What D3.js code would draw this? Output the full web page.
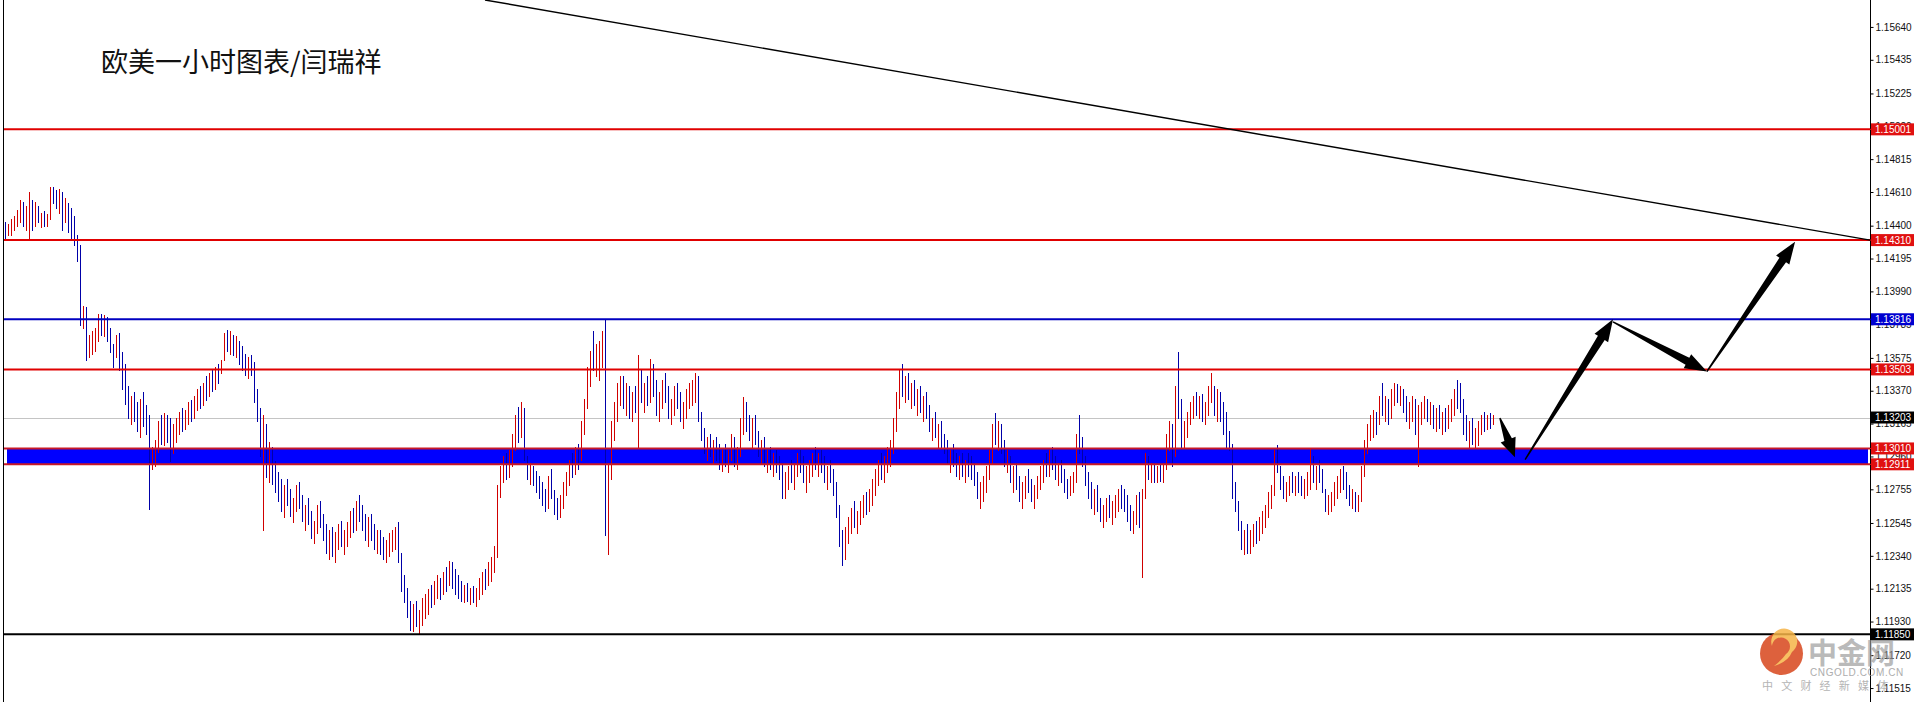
<!DOCTYPE html>
<html><head><meta charset="utf-8">
<script src="https://cdn.jsdelivr.net/npm/d3@7"></script>
<style>html,body{margin:0;padding:0;background:#fff;overflow:hidden}svg{display:block}</style>
</head><body><svg id="c" width="1915" height="702"></svg>
<script>
// ---------- DATA (EURUSD 1H bars) ----------
const firstOpen = 1.1438;
const highs = [
1.1442,1.1441,1.1444,1.1446,1.1450,1.1456,1.1455,1.1452,1.1461,1.1456,
1.1455,1.1452,1.1448,1.1449,1.1447,1.1464,1.1464,1.1462,1.1463,1.1461,
1.1457,1.1454,1.1451,1.1446,1.1434,1.1428,1.1390,1.1389,1.1372,1.1374,
1.1376,1.1385,1.1385,1.1384,1.1383,1.1376,1.1366,1.1372,1.1373,1.1361,
1.1354,1.1340,1.1334,1.1336,1.1330,1.1332,1.1336,1.1328,1.1322,1.1302,
1.1306,1.1318,1.1322,1.1323,1.1322,1.1320,1.1316,1.1320,1.1324,1.1326,
1.1325,1.1330,1.1331,1.1334,1.1338,1.1340,1.1342,1.1346,1.1348,1.1350,
1.1352,1.1354,1.1356,1.1373,1.1375,1.1374,1.1372,1.1371,1.1368,1.1365,
1.1360,1.1358,1.1359,1.1355,1.1338,1.1326,1.1322,1.1316,1.1305,1.1302,
1.1293,1.1286,1.1282,1.1278,1.1282,1.1276,1.1270,1.1278,1.1280,1.1272,
1.1266,1.1270,1.1262,1.1256,1.1266,1.1268,1.1260,1.1254,1.1250,1.1252,
1.1249,1.1254,1.1256,1.1250,1.1255,1.1262,1.1264,1.1268,1.1272,1.1266,
1.1260,1.1258,1.1260,1.1254,1.1250,1.1250,1.1246,1.1244,1.1248,1.1250,
1.1252,1.1255,1.1236,1.1222,1.1214,1.1206,1.1204,1.1206,1.1200,1.1208,
1.1210,1.1213,1.1216,1.1218,1.1222,1.1220,1.1224,1.1227,1.1231,1.1230,
1.1226,1.1222,1.1218,1.1216,1.1217,1.1214,1.1215,1.1214,1.1220,1.1224,
1.1226,1.1230,1.1233,1.1240,1.1278,1.1290,1.1296,1.1298,1.1300,1.1310,
1.1322,1.1327,1.1330,1.1326,1.1296,1.1292,1.1290,1.1287,1.1284,1.1280,
1.1276,1.1284,1.1288,1.1275,1.1270,1.1272,1.1280,1.1286,1.1294,1.1298,
1.1302,1.1304,1.1318,1.1332,1.1352,1.1362,1.1374,1.1366,1.1368,1.1374,
1.1382,1.1292,1.1318,1.1330,1.1342,1.1346,1.1346,1.1342,1.1340,1.1336,
1.1340,1.1359,1.1350,1.1342,1.1346,1.1357,1.1354,1.1344,1.1336,1.1344,
1.1348,1.1340,1.1332,1.1340,1.1342,1.1336,1.1330,1.1338,1.1342,1.1344,
1.1348,1.1346,1.1324,1.1314,1.1308,1.1310,1.1306,1.1308,1.1304,1.1300,
1.1304,1.1300,1.1310,1.1308,1.1302,1.1320,1.1333,1.1330,1.1322,1.1320,
1.1322,1.1312,1.1306,1.1308,1.1300,1.1302,1.1298,1.1300,1.1296,1.1292,
1.1286,1.1290,1.1294,1.1292,1.1298,1.1300,1.1296,1.1290,1.1294,1.1298,
1.1302,1.1298,1.1300,1.1296,1.1290,1.1294,1.1288,1.1280,1.1266,1.1250,
1.1252,1.1258,1.1264,1.1268,1.1262,1.1268,1.1272,1.1274,1.1276,1.1282,
1.1288,1.1294,1.1298,1.1296,1.1302,1.1306,1.1320,1.1336,1.1350,1.1354,
1.1346,1.1348,1.1342,1.1344,1.1338,1.1340,1.1334,1.1336,1.1328,1.1320,
1.1324,1.1316,1.1318,1.1310,1.1306,1.1300,1.1304,1.1298,1.1296,1.1298,
1.1294,1.1298,1.1296,1.1292,1.1286,1.1280,1.1284,1.1290,1.1300,1.1316,
1.1323,1.1318,1.1316,1.1306,1.1300,1.1296,1.1290,1.1292,1.1284,1.1280,
1.1284,1.1288,1.1282,1.1278,1.1284,1.1290,1.1294,1.1298,1.1300,1.1302,
1.1296,1.1292,1.1294,1.1288,1.1282,1.1284,1.1286,1.1310,1.1322,1.1308,
1.1296,1.1286,1.1280,1.1276,1.1278,1.1270,1.1266,1.1270,1.1272,1.1268,
1.1272,1.1276,1.1278,1.1276,1.1272,1.1266,1.1262,1.1272,1.1274,1.1276,
1.1298,1.1296,1.1292,1.1292,1.1290,1.1291,1.1292,1.1310,1.1318,1.1316,
1.1340,1.1361,1.1332,1.1318,1.1324,1.1330,1.1334,1.1336,1.1334,1.1335,
1.1330,1.1340,1.1348,1.1340,1.1338,1.1336,1.1330,1.1324,1.1312,1.1304,
1.1280,1.1268,1.1256,1.1250,1.1254,1.1250,1.1254,1.1256,1.1258,1.1262,
1.1266,1.1274,1.1278,1.1300,1.1303,1.1290,1.1284,1.1280,1.1284,1.1286,
1.1284,1.1286,1.1284,1.1282,1.1286,1.1301,1.1296,1.1290,1.1294,1.1288,
1.1276,1.1272,1.1274,1.1280,1.1284,1.1288,1.1290,1.1286,1.1278,1.1276,
1.1274,1.1272,1.1290,1.1306,1.1316,1.1322,1.1325,1.1324,1.1334,1.1342,
1.1334,1.1332,1.1338,1.1342,1.1341,1.1340,1.1338,1.1334,1.1330,1.1334,
1.1332,1.1328,1.1330,1.1334,1.1332,1.1330,1.1328,1.1326,1.1328,1.1324,
1.1326,1.1328,1.1332,1.1338,1.1344,1.1342,1.1332,1.1322,1.1318,1.1320,
1.1314,1.1318,1.1322,1.1324,1.1322,1.1323,1.1322];
const lows = [
1.1432,1.1434,1.1434,1.1437,1.1440,1.1442,1.1440,1.1437,1.1431,1.1437,
1.1440,1.1442,1.1439,1.1440,1.1440,1.1444,1.1454,1.1451,1.1448,1.1437,
1.1442,1.1436,1.1432,1.1428,1.1418,1.1378,1.1376,1.1356,1.1358,1.1360,
1.1362,1.1368,1.1372,1.1371,1.1368,1.1361,1.1352,1.1358,1.1350,1.1338,
1.1329,1.1320,1.1316,1.1318,1.1312,1.1308,1.1315,1.1310,1.1263,1.1288,
1.1290,1.1299,1.1304,1.1303,1.1305,1.1293,1.1298,1.1305,1.1310,1.1312,
1.1313,1.1316,1.1318,1.1320,1.1325,1.1326,1.1328,1.1331,1.1334,1.1337,
1.1338,1.1342,1.1348,1.1356,1.1362,1.1360,1.1359,1.1358,1.1354,1.1350,
1.1347,1.1345,1.1347,1.1330,1.1318,1.1296,1.1250,1.1283,1.1280,1.1279,
1.1274,1.1268,1.1262,1.1258,1.1266,1.1259,1.1255,1.1262,1.1264,1.1256,
1.1250,1.1254,1.1245,1.1242,1.1248,1.1252,1.1244,1.1236,1.1232,1.1234,
1.1230,1.1238,1.1240,1.1235,1.1240,1.1246,1.1249,1.1250,1.1256,1.1250,
1.1244,1.1240,1.1244,1.1238,1.1236,1.1235,1.1232,1.1230,1.1234,1.1237,
1.1238,1.1230,1.1212,1.1205,1.1196,1.1188,1.1187,1.1190,1.1186,1.1191,
1.1195,1.1198,1.1202,1.1204,1.1208,1.1207,1.1210,1.1212,1.1216,1.1214,
1.1210,1.1208,1.1206,1.1205,1.1206,1.1204,1.1205,1.1203,1.1207,1.1210,
1.1213,1.1216,1.1218,1.1224,1.1233,1.1271,1.1280,1.1282,1.1283,1.1290,
1.1300,1.1305,1.1308,1.1294,1.1282,1.1279,1.1278,1.1274,1.1270,1.1266,
1.1262,1.1264,1.1270,1.1260,1.1257,1.1258,1.1264,1.1272,1.1278,1.1283,
1.1285,1.1288,1.1294,1.1310,1.1326,1.1340,1.1350,1.1346,1.1344,1.1352,
1.1247,1.1235,1.1282,1.1306,1.1318,1.1328,1.1326,1.1322,1.1320,1.1318,
1.1324,1.1302,1.1330,1.1324,1.1328,1.1330,1.1334,1.1322,1.1318,1.1326,
1.1330,1.1320,1.1316,1.1322,1.1326,1.1318,1.1314,1.1320,1.1326,1.1328,
1.1330,1.1318,1.1306,1.1298,1.1294,1.1296,1.1292,1.1294,1.1288,1.1287,
1.1290,1.1286,1.1294,1.1290,1.1288,1.1296,1.1310,1.1312,1.1306,1.1302,
1.1304,1.1296,1.1292,1.1290,1.1286,1.1288,1.1284,1.1286,1.1282,1.1270,
1.1270,1.1276,1.1280,1.1276,1.1284,1.1286,1.1280,1.1274,1.1280,1.1284,
1.1288,1.1284,1.1286,1.1280,1.1276,1.1280,1.1272,1.1258,1.1240,1.1228,
1.1232,1.1242,1.1248,1.1252,1.1248,1.1254,1.1258,1.1260,1.1262,1.1266,
1.1272,1.1278,1.1282,1.1280,1.1286,1.1290,1.1298,1.1312,1.1326,1.1334,
1.1330,1.1332,1.1326,1.1328,1.1322,1.1324,1.1318,1.1320,1.1312,1.1306,
1.1308,1.1302,1.1302,1.1298,1.1292,1.1286,1.1290,1.1284,1.1282,1.1284,
1.1280,1.1284,1.1282,1.1278,1.1270,1.1264,1.1268,1.1274,1.1282,1.1292,
1.1304,1.1300,1.1298,1.1290,1.1286,1.1280,1.1274,1.1276,1.1268,1.1264,
1.1270,1.1274,1.1268,1.1264,1.1270,1.1276,1.1280,1.1284,1.1284,1.1288,
1.1282,1.1278,1.1280,1.1274,1.1270,1.1272,1.1274,1.1280,1.1298,1.1290,
1.1278,1.1270,1.1264,1.1260,1.1262,1.1256,1.1252,1.1256,1.1258,1.1254,
1.1258,1.1262,1.1264,1.1262,1.1256,1.1250,1.1248,1.1254,1.1252,1.1221,
1.1270,1.1282,1.1280,1.1280,1.1280,1.1281,1.1280,1.1288,1.1300,1.1290,
1.1296,1.1320,1.1302,1.1302,1.1308,1.1316,1.1320,1.1322,1.1320,1.1318,
1.1316,1.1322,1.1330,1.1322,1.1318,1.1318,1.1310,1.1302,1.1300,1.1270,
1.1262,1.1250,1.1238,1.1235,1.1236,1.1236,1.1240,1.1242,1.1244,1.1248,
1.1252,1.1258,1.1264,1.1272,1.1286,1.1276,1.1270,1.1268,1.1272,1.1274,
1.1272,1.1274,1.1272,1.1270,1.1272,1.1276,1.1280,1.1276,1.1280,1.1274,
1.1262,1.1260,1.1262,1.1266,1.1270,1.1274,1.1276,1.1270,1.1266,1.1264,
1.1262,1.1262,1.1268,1.1284,1.1298,1.1306,1.1308,1.1310,1.1316,1.1322,
1.1318,1.1316,1.1320,1.1328,1.1330,1.1328,1.1324,1.1318,1.1314,1.1318,
1.1310,1.1290,1.1316,1.1320,1.1318,1.1316,1.1314,1.1312,1.1314,1.1310,
1.1312,1.1314,1.1318,1.1322,1.1326,1.1324,1.1310,1.1306,1.1302,1.1304,
1.1302,1.1303,1.1310,1.1312,1.1313,1.1314,1.1316];
const closes = [
1.1436,1.1439,1.1441,1.1443,1.1448,1.1453,1.1444,1.1448,1.1452,1.1442,
1.1450,1.1445,1.1446,1.1443,1.1445,1.1462,1.1457,1.1454,1.1460,1.1443,
1.1448,1.1440,1.1436,1.1432,1.1421,1.1385,1.1388,1.1360,1.1369,1.1371,
1.1373,1.1382,1.1377,1.1379,1.1372,1.1364,1.1362,1.1366,1.1353,1.1342,
1.1332,1.1324,1.1330,1.1321,1.1316,1.1326,1.1320,1.1314,1.1292,1.1298,
1.1304,1.1314,1.1308,1.1318,1.1309,1.1300,1.1312,1.1316,1.1320,1.1318,
1.1322,1.1326,1.1324,1.1331,1.1335,1.1330,1.1338,1.1335,1.1344,1.1341,
1.1349,1.1346,1.1355,1.1370,1.1366,1.1370,1.1362,1.1367,1.1357,1.1353,
1.1350,1.1355,1.1352,1.1334,1.1322,1.1300,1.1310,1.1288,1.1300,1.1284,
1.1278,1.1272,1.1266,1.1275,1.1270,1.1262,1.1267,1.1274,1.1268,1.1260,
1.1262,1.1257,1.1249,1.1253,1.1262,1.1256,1.1247,1.1240,1.1244,1.1238,
1.1246,1.1250,1.1244,1.1246,1.1252,1.1258,1.1253,1.1265,1.1260,1.1254,
1.1248,1.1255,1.1248,1.1242,1.1246,1.1239,1.1236,1.1241,1.1245,1.1247,
1.1250,1.1234,1.1215,1.1209,1.1200,1.1192,1.1200,1.1194,1.1197,1.1204,
1.1206,1.1210,1.1207,1.1214,1.1216,1.1212,1.1221,1.1218,1.1228,1.1219,
1.1214,1.1211,1.1209,1.1213,1.1208,1.1210,1.1207,1.1212,1.1217,1.1221,
1.1220,1.1227,1.1230,1.1237,1.1275,1.1286,1.1292,1.1285,1.1296,1.1306,
1.1318,1.1312,1.1325,1.1298,1.1285,1.1288,1.1282,1.1278,1.1274,1.1270,
1.1266,1.1280,1.1275,1.1264,1.1262,1.1268,1.1277,1.1283,1.1290,1.1287,
1.1298,1.1292,1.1314,1.1328,1.1348,1.1358,1.1356,1.1362,1.1364,1.1370,
1.1260,1.1288,1.1312,1.1325,1.1336,1.1340,1.1330,1.1338,1.1325,1.1332,
1.1328,1.1352,1.1334,1.1338,1.1332,1.1352,1.1338,1.1326,1.1332,1.1340,
1.1334,1.1324,1.1328,1.1336,1.1330,1.1322,1.1326,1.1334,1.1338,1.1340,
1.1344,1.1322,1.1310,1.1303,1.1305,1.1300,1.1302,1.1298,1.1292,1.1296,
1.1293,1.1298,1.1306,1.1294,1.1298,1.1316,1.1326,1.1316,1.1310,1.1316,
1.1308,1.1300,1.1302,1.1294,1.1296,1.1291,1.1294,1.1290,1.1286,1.1274,
1.1282,1.1286,1.1284,1.1290,1.1294,1.1290,1.1284,1.1286,1.1290,1.1294,
1.1292,1.1296,1.1290,1.1284,1.1288,1.1284,1.1276,1.1262,1.1244,1.1236,
1.1248,1.1254,1.1260,1.1256,1.1258,1.1264,1.1268,1.1266,1.1272,1.1278,
1.1284,1.1290,1.1286,1.1292,1.1298,1.1302,1.1316,1.1330,1.1344,1.1340,
1.1342,1.1336,1.1338,1.1332,1.1334,1.1328,1.1330,1.1324,1.1316,1.1318,
1.1312,1.1314,1.1306,1.1304,1.1296,1.1298,1.1294,1.1290,1.1292,1.1288,
1.1292,1.1290,1.1286,1.1282,1.1274,1.1276,1.1280,1.1286,1.1296,1.1312,
1.1308,1.1314,1.1302,1.1294,1.1296,1.1284,1.1286,1.1280,1.1272,1.1276,
1.1282,1.1278,1.1272,1.1276,1.1280,1.1286,1.1290,1.1288,1.1296,1.1292,
1.1286,1.1290,1.1284,1.1278,1.1276,1.1280,1.1282,1.1306,1.1302,1.1294,
1.1282,1.1274,1.1268,1.1272,1.1266,1.1260,1.1262,1.1266,1.1262,1.1264,
1.1268,1.1272,1.1268,1.1266,1.1260,1.1254,1.1258,1.1268,1.1256,1.1270,
1.1292,1.1286,1.1288,1.1284,1.1287,1.1284,1.1290,1.1306,1.1314,1.1294,
1.1336,1.1330,1.1306,1.1314,1.1320,1.1326,1.1330,1.1324,1.1332,1.1322,
1.1326,1.1336,1.1338,1.1326,1.1334,1.1322,1.1314,1.1306,1.1304,1.1274,
1.1266,1.1254,1.1244,1.1246,1.1240,1.1248,1.1250,1.1246,1.1255,1.1258,
1.1263,1.1270,1.1275,1.1296,1.1290,1.1280,1.1274,1.1276,1.1280,1.1278,
1.1282,1.1278,1.1276,1.1278,1.1282,1.1296,1.1284,1.1286,1.1282,1.1278,
1.1266,1.1268,1.1270,1.1276,1.1282,1.1284,1.1280,1.1274,1.1270,1.1272,
1.1266,1.1270,1.1286,1.1302,1.1312,1.1318,1.1320,1.1316,1.1330,1.1326,
1.1330,1.1320,1.1334,1.1338,1.1335,1.1336,1.1328,1.1322,1.1326,1.1330,
1.1314,1.1322,1.1326,1.1330,1.1322,1.1326,1.1318,1.1322,1.1316,1.1320,
1.1318,1.1324,1.1328,1.1334,1.1330,1.1328,1.1314,1.1310,1.1314,1.1306,
1.1310,1.1314,1.1318,1.1316,1.1320,1.1318,1.1320];

const axisTicks = [1.15640,1.15435,1.15225,1.15020,1.14815,1.14610,1.14400,1.14195,1.13990,1.13785,
  1.13575,1.13370,1.13165,1.12960,1.12755,1.12545,1.12340,1.12135,1.11930,1.11720,1.11515];
const redLevels = [1.15001, 1.14310, 1.13503];
const blueLevels = [1.13816];
const zoneLevels = [1.13010, 1.12911];
const supportLevels = [1.11850];
const lastPrice = 1.13203;
// trend line anchors: [bar index, price]
const trendLine = [[160, 1.15808], [621.7, 1.14310]];
// projected path arrows: [bar index, price] pairs
const arrows = [
  [[498.3, 1.1320], [503.3, 1.12955]],
  [[506.7, 1.1294], [536.0, 1.13816]],
  [[536.0, 1.1380], [567.3, 1.13490]],
  [[567.3, 1.13490], [596.7, 1.14300]]
];
const titleText = "欧美一小时图表/闫瑞祥";

// ---------- DRAW ----------
const W = 1915, H = 702, axisX = 1870;
const svg = d3.select("#c");
const x = d3.scaleLinear().domain([0, 621.67]).range([5, axisX]);
const y = d3.scaleLinear().domain([1.15808, 1.11428]).range([0, H]);
const RED = "#d00000", BLUE = "#0000a8";

svg.append("rect").attr("width", W).attr("height", H).attr("fill", "#fff");

// left frame line
svg.append("line").attr("x1", 3.5).attr("x2", 3.5).attr("y1", 0).attr("y2", H)
  .attr("stroke", "#000").attr("stroke-width", 1);

// last price line
svg.append("line").attr("x1", 4).attr("x2", axisX).attr("y1", Math.round(y(lastPrice)) + 0.5)
  .attr("y2", Math.round(y(lastPrice)) + 0.5).attr("stroke", "#c4c4c4").attr("stroke-width", 1);

// zone rectangle
const zTop = y(d3.max(zoneLevels)), zBot = y(d3.min(zoneLevels));
svg.append("rect").attr("x", 7).attr("y", zTop).attr("width", axisX - 9).attr("height", zBot - zTop)
  .attr("fill", "#0000ff");

// bars
const opens = closes.map((c, i) => i === 0 ? firstOpen : closes[i - 1]);
const gBars = svg.append("g").attr("shape-rendering", "crispEdges");
gBars.selectAll("line").data(highs).join("line")
  .attr("x1", (d, i) => Math.round(x(i)) + 0.5)
  .attr("x2", (d, i) => Math.round(x(i)) + 0.5)
  .attr("y1", (d) => y(d))
  .attr("y2", (d, i) => y(lows[i]) + 1)
  .attr("stroke", (d, i) => closes[i] >= opens[i] ? RED : BLUE)
  .attr("stroke-width", 1);

// horizontal level lines
function hLine(v, color, w) {
  svg.append("line").attr("x1", 4).attr("x2", axisX).attr("y1", y(v)).attr("y2", y(v))
    .attr("stroke", color).attr("stroke-width", w);
}
zoneLevels.forEach(v => hLine(v, "#c81828", 2));
redLevels.forEach(v => hLine(v, "#e00000", 2));
blueLevels.forEach(v => hLine(v, "#0000c0", 2));
supportLevels.forEach(v => hLine(v, "#000", 2));

// trend line
svg.append("line")
  .attr("x1", x(trendLine[0][0])).attr("y1", y(trendLine[0][1]))
  .attr("x2", x(trendLine[1][0])).attr("y2", y(trendLine[1][1]))
  .attr("stroke", "#000").attr("stroke-width", 1.4);

// arrows
function arrowPoly(p0, p1) {
  const x0 = x(p0[0]), y0 = y(p0[1]), x1 = x(p1[0]), y1 = y(p1[1]);
  const dx = x1 - x0, dy = y1 - y0, L = Math.hypot(dx, dy);
  const ux = dx / L, uy = dy / L, nx = -uy, ny = ux;
  const hl = Math.min(22, L * 0.45), hw = 8, sw = 4;
  const bx = x1 - ux * hl, by = y1 - uy * hl;
  return [[x0 + nx * 0.7, y0 + ny * 0.7], [bx + nx * sw, by + ny * sw], [bx + nx * hw, by + ny * hw],
    [x1, y1], [bx - nx * hw, by - ny * hw], [bx - nx * sw, by - ny * sw], [x0 - nx * 0.7, y0 - ny * 0.7]];
}
svg.append("g").selectAll("path").data(arrows).join("path")
  .attr("d", d => "M" + arrowPoly(d[0], d[1]).map(p => p.join(",")).join("L") + "Z")
  .attr("fill", "#000");

// price axis
const axis = d3.axisRight(y).tickValues(axisTicks).tickSize(3).tickSizeOuter(0).tickFormat(d3.format(".5f"));
const gA = svg.append("g").attr("transform", `translate(${axisX + 0.5},0)`).call(axis);
gA.select(".domain").attr("stroke", "#000").attr("d", `M0,0V${H}`);
gA.selectAll(".tick line").attr("stroke", "#000");
gA.selectAll(".tick text").attr("x", 5).attr("fill", "#111")
  .style("font-family", "'Liberation Sans', Arial, sans-serif").style("font-size", "10px");

// price tags
const tags = [
  ...redLevels.map(v => [v, "#e01010"]),
  ...blueLevels.map(v => [v, "#0000d0"]),
  [zoneLevels[0], "#e01010"], [zoneLevels[1], "#e01010"],
  [lastPrice, "#000"],
  ...supportLevels.map(v => [v, "#000"])
];
const gT = svg.append("g");
tags.forEach(([v, c]) => {
  const yy = y(v);
  gT.append("rect").attr("x", axisX + 1).attr("y", yy - 6).attr("width", 43).attr("height", 12).attr("fill", c);
  gT.append("line").attr("x1", axisX).attr("x2", axisX + 4).attr("y1", yy).attr("y2", yy).attr("stroke", c);
  gT.append("text").attr("x", axisX + 5).attr("y", yy).attr("dy", "0.35em").attr("fill", "#fff")
    .style("font-family", "'Liberation Sans', Arial, sans-serif").style("font-size", "10px")
    .text(d3.format(".5f")(v));
});

// title
svg.append("text").attr("x", 101).attr("y", 72).text(titleText)
  .style("font-family", "'Noto Sans CJK SC', sans-serif").style("font-size", "27px").attr("fill", "#111");

// watermark
const wm = svg.append("g").attr("opacity", 0.85);
wm.append("circle").attr("cx", 1781.5).attr("cy", 653.5).attr("r", 21.5).attr("fill", "#d8461c");
wm.append("path").attr("d", "M1772,646 a9,9 0 1,1 14,8 q-4,6 -12,12 q14,-4 18,-14 a13,13 0 1,0 -20,-6 z")
  .attr("fill", "#f6b447");
wm.append("text").attr("x", 1808).attr("y", 664).text("中金网")
  .style("font-family", "'Noto Sans CJK SC', sans-serif").style("font-size", "29px").style("font-weight", "bold")
  .attr("fill", "#9a9a9a").attr("opacity", 0.8);
wm.append("text").attr("x", 1810).attr("y", 676).text("CNGOLD.COM.CN")
  .style("font-family", "'Liberation Sans', Arial, sans-serif").style("font-size", "10px").style("letter-spacing", "0.6px")
  .attr("fill", "#a0a0a0");
wm.append("text").attr("x", 1762).attr("y", 690).text("中文财经新媒体")
  .style("font-family", "'Noto Sans CJK SC', sans-serif").style("font-size", "11px").style("letter-spacing", "8.2px")
  .attr("fill", "#a8a8a8");
</script>
</body></html>
